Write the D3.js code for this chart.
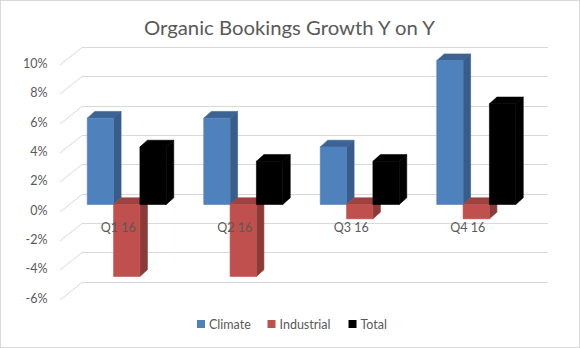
<!DOCTYPE html>
<html>
<head>
<meta charset="utf-8">
<script src="https://cdn.jsdelivr.net/npm/d3@7/dist/d3.min.js"></script>
<style>
  html, body { margin: 0; padding: 0; background: #fff; }
  svg { display: block; font-family: Lato, "Open Sans", sans-serif; }
</style>
</head>
<body>
<svg id="chart" width="580" height="348"></svg>
<script>
// Quarterly organic bookings growth, year on year (%)
const categories = ["Q1 16", "Q2 16", "Q3 16", "Q4 16"];
const seriesNames = ["Climate", "Industrial", "Total"];
const climate = [6, 6, 4, 10];
const industrial = [-5, -5, -1, -1];
const total = [4, 3, 3, 7];
const tickValues = [-6, -4, -2, 0, 2, 4, 6, 8, 10];
const tickLabels = ["-6%", "-4%", "-2%", "0%", "2%", "4%", "6%", "8%", "10%"];
const title = "Organic Bookings Growth Y on Y";

const seriesValues = [climate, industrial, total];
const colors = {
  Climate:    { front: "#4f81bd", side: "#385d8a", top: "#3d6394" },
  Industrial: { front: "#c0504d", side: "#8c3a38", top: "#9e4240" },
  Total:      { front: "#000000", side: "#000000", top: "#000000" }
};

const svg = d3.select("#chart");
const W = 580, H = 348;

// chart frame
svg.append("rect")
  .attr("x", 0.5).attr("y", 0.5)
  .attr("width", W - 1).attr("height", H - 1)
  .attr("fill", "#fff").attr("stroke", "#d9d9d9");

// title
svg.append("text")
  .attr("x", 289.5).attr("y", 35)
  .attr("text-anchor", "middle")
  .attr("font-size", 20)
  .attr("fill", "#595959")
  .attr("textLength", 291)
  .attr("lengthAdjust", "spacingAndGlyphs")
  .text(title);

// 3D projection: back wall, wall depth and bar plane
const wallLeft = 82, wallRight = 548;
const depthDx = -22, depthDy = 17.5;        // back wall -> front edge of floor
const yBack = d3.scaleLinear().domain([-6, 10]).range([281.5, 47]);
const yLabel = d3.scaleLinear().domain([-6, 10]).range([281.5 + 16.5, 47 + 16.5]);
const yBar = d3.scaleLinear().domain([-6, 10]).range([290.8, 60.6]);
const barDx = 7.5, barDy = -6.7;            // bar depth

// gridlines on back wall plus left wall diagonals
const grid = svg.append("g").attr("stroke", "#d9d9d9").attr("stroke-width", 1).attr("fill", "none");
tickValues.forEach(v => {
  const y = Math.round(yBack(v)) + 0.5;
  grid.append("path")
    .attr("d", `M${wallLeft + depthDx},${y + depthDy}L${wallLeft},${y}L${wallRight},${y}`);
});

// value axis labels
const axis = d3.axisLeft(yLabel)
  .tickValues(tickValues)
  .tickSize(0)
  .tickPadding(0)
  .tickFormat((d, i) => tickLabels[i]);
const axisG = svg.append("g").attr("transform", "translate(47.5,0)").call(axis);
axisG.select(".domain").remove();
axisG.selectAll("text")
  .attr("fill", "#595959")
  .attr("font-size", 12.5)
  .attr("font-family", "Lato, 'Open Sans', sans-serif");

// category and series scales in the bar plane
const x = d3.scaleBand().domain(categories).range([68.5, 534.5]).paddingInner(0).paddingOuter(0);
const xs = d3.scaleBand().domain(seriesNames).range([0, x.bandwidth()]).paddingInner(0).paddingOuter(0.712);

const face = (g, d, fill) => g.append("path")
  .attr("d", d)
  .attr("fill", fill)
  .attr("stroke", fill)
  .attr("stroke-width", 0.6)
  .attr("stroke-linejoin", "round");

const bars = svg.append("g");
categories.forEach((cat, ci) => {
  seriesNames.forEach((name, si) => {
    const v = seriesValues[si][ci];
    const x0 = x(cat) + xs(name);
    const x1 = x0 + xs.bandwidth();
    const yt = yBar(Math.max(0, v));
    const yb = yBar(Math.min(0, v));
    const c = colors[name];
    const g = bars.append("g");
    // right side face
    face(g, `M${x1},${yt}L${x1 + barDx},${yt + barDy}L${x1 + barDx},${yb + barDy}L${x1},${yb}Z`, c.side);
    // top face
    face(g, `M${x0},${yt}L${x0 + barDx},${yt + barDy}L${x1 + barDx},${yt + barDy}L${x1},${yt}Z`, c.top);
    // front face
    face(g, `M${x0},${yt}L${x1},${yt}L${x1},${yb}L${x0},${yb}Z`, c.front);
  });
});

// category labels on the floor
svg.append("g").selectAll("text")
  .data(categories)
  .join("text")
  .attr("x", d => x(d) + x.bandwidth() / 2 - 8.5)
  .attr("y", 231.5)
  .attr("text-anchor", "middle")
  .attr("font-size", 12.5)
  .attr("fill", "#595959")
  .text(d => d);

// legend
const legendX = [197, 267.5, 348.5];
const legend = svg.append("g");
seriesNames.forEach((name, i) => {
  legend.append("rect")
    .attr("x", legendX[i]).attr("y", 320)
    .attr("width", 8).attr("height", 8)
    .attr("fill", colors[name].front);
  legend.append("text")
    .attr("x", legendX[i] + 12).attr("y", 328.5)
    .attr("font-size", 12.5)
    .attr("fill", "#595959")
    .text(name);
});
</script>
</body>
</html>
